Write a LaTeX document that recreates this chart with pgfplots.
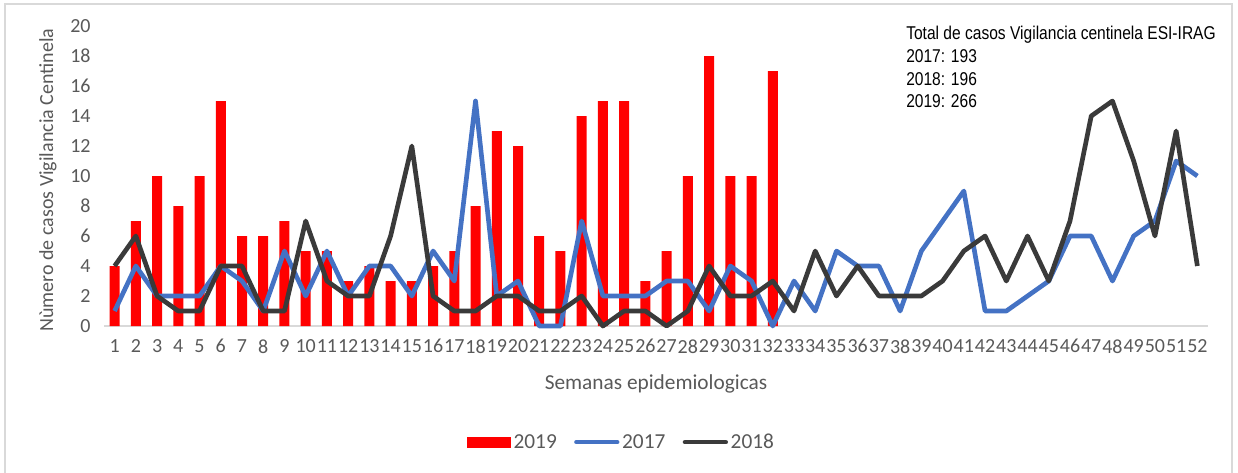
\documentclass[border=0pt]{standalone}
\usepackage{pgfplots}
\pgfplotsset{compat=1.18}
\usepackage{pgfplotstable}
\usepackage{fontspec}
\setmainfont{Carlito}
\newfontfamily\narrowfont[FakeStretch=0.84]{Liberation Sans}

\definecolor{txtgray}{HTML}{595959}
\definecolor{axgray}{HTML}{D9D9D9}
\definecolor{framegray}{HTML}{D9D9D9}
\definecolor{blue17}{HTML}{4472C4}
\definecolor{dark18}{HTML}{3A3A3A}

% casos por semana epidemiologica
\pgfplotstableread{
week cases
1 4
2 7
3 10
4 8
5 10
6 15
7 6
8 6
9 7
10 5
11 5
12 3
13 4
14 3
15 3
16 4
17 5
18 8
19 13
20 12
21 6
22 5
23 14
24 15
25 15
26 3
27 5
28 10
29 18
30 10
31 10
32 17
}\yearnineteen

\pgfplotstableread{
week cases
1 1
2 4
3 2
4 2
5 2
6 4
7 3
8 1
9 5
10 2
11 5
12 2
13 4
14 4
15 2
16 5
17 3
18 15
19 2
20 3
21 0
22 0
23 7
24 2
25 2
26 2
27 3
28 3
29 1
30 4
31 3
32 0
33 3
34 1
35 5
36 4
37 4
38 1
39 5
40 7
41 9
42 1
43 1
44 2
45 3
46 6
47 6
48 3
49 6
50 7
51 11
52 10
}\yearseventeen

\pgfplotstableread{
week cases
1 4
2 6
3 2
4 1
5 1
6 4
7 4
8 1
9 1
10 7
11 3
12 2
13 2
14 6
15 12
16 2
17 1
18 1
19 2
20 2
21 1
22 1
23 2
24 0
25 1
26 1
27 0
28 1
29 4
30 2
31 2
32 3
33 1
34 5
35 2
36 4
37 2
38 2
39 2
40 3
41 5
42 6
43 3
44 6
45 3
46 7
47 14
48 15
49 11
50 6
51 13
52 4
}\yeareighteen

\begin{document}
\begin{tikzpicture}
\useasboundingbox (0,0) rectangle (928.5pt,-354pt);
\draw[framegray, line width=0.8pt] (3.75pt,-360pt) -- (3.75pt,-3pt) -- (924pt,-3pt) -- (924pt,-360pt);

\begin{axis}[
  at={(78pt,-244.5pt)}, anchor=south west,
  scale only axis, width=828pt, height=225pt,
  xmin=0.5, xmax=52.5, ymin=0, ymax=20,
  xtick={1,...,52}, ytick={0,2,...,20},
  axis line style={draw=none}, major tick length=0pt,
  /pgf/number format/assume math mode=true,
  tick label style={font=\fontsize{15}{17}\selectfont, text=txtgray},
  xticklabel style={yshift=-6.5pt},
  yticklabel style={xshift=-6.5pt},
  clip=false,
  legend columns=3,
  legend style={at={(0.469,-0.387)}, anchor=center, draw=none, fill=none,
    font=\fontsize{16}{18}\selectfont, text=txtgray,
    /tikz/every even column/.append style={column sep=11pt}},
]
\draw[axgray, line width=1pt] (axis cs:0.5,0) -- (axis cs:52.5,0);

\addplot[ybar, bar width=7.5pt, fill=red, draw=none,
  legend image code/.code={\fill[red] (0pt,-4.1pt) rectangle (33pt,4.1pt);}]
  table[x=week, y=cases] {\yearnineteen};
\addlegendentry{2019}

\addplot[blue17, line width=3.5pt, line join=round, no marks,
  legend image code/.code={\draw[blue17, line width=3.5pt, line cap=round] (1.5pt,0pt) -- (32pt,0pt);}]
  table[x=week, y=cases] {\yearseventeen};
\addlegendentry{2017}

\addplot[dark18, line width=3.5pt, line join=round, no marks,
  legend image code/.code={\draw[dark18, line width=3.5pt, line cap=round] (1.5pt,0pt) -- (32pt,0pt);}]
  table[x=week, y=cases] {\yeareighteen};
\addlegendentry{2018}
\end{axis}

\node[rotate=90, text=txtgray, font=\fontsize{15}{17}\selectfont] at (36pt,-135pt) {Nùmero de casos Vigilancia Centinela};
\node[text=txtgray, font=\fontsize{16}{18}\selectfont] at (492pt,-288pt) {Semanas epidemiologicas};

\node[anchor=north west, align=left, inner sep=0pt, font=\narrowfont\fontsize{13.9}{17}\selectfont] at (679.5pt,-19.6pt)
  {Total de casos Vigilancia centinela ESI-IRAG\\2017: 193\\2018: 196\\2019: 266};
\end{tikzpicture}
\end{document}
